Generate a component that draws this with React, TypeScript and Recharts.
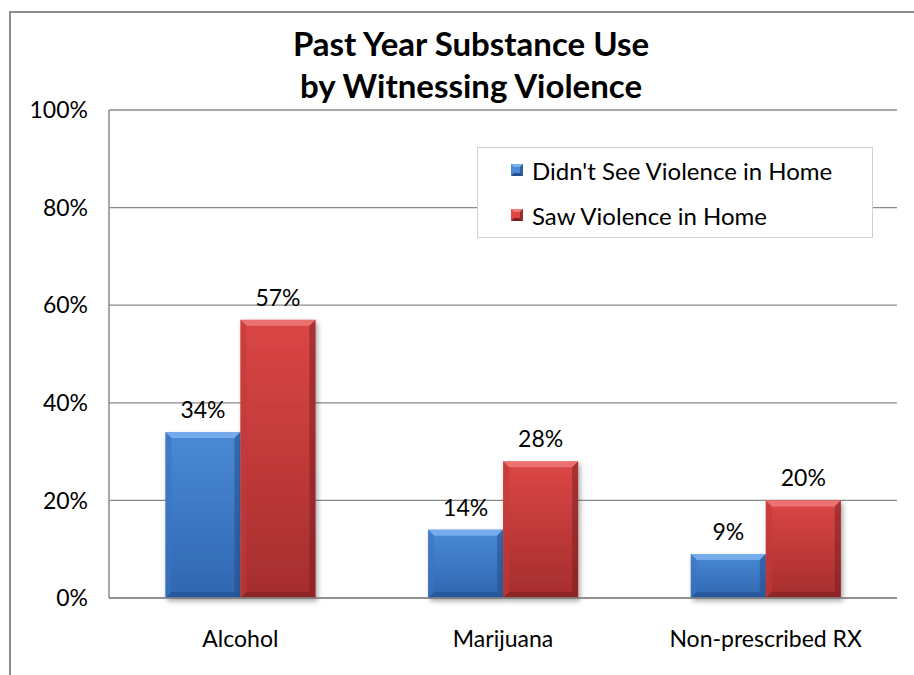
import React from "react";
import { BarChart, Bar, XAxis, YAxis, CartesianGrid, LabelList } from "recharts";

const categories = ["Alcohol", "Marijuana", "Non-prescribed RX"];
const didntSee = [34, 14, 9];
const saw = [57, 28, 20];
const yTicks = [0, 20, 40, 60, 80, 100];
const seriesNames = ["Didn't See Violence in Home", "Saw Violence in Home"];
const titleLines = ["Past Year Substance Use", "by Witnessing Violence"];

const data = categories.map((c, i) => ({ name: c, a: didntSee[i], b: saw[i] }));

const FONT = "Lato, 'Open Sans', sans-serif";

const palettes: Record<string, { top: string; bottom: string; light: string; dark: string; side: string }> = {
  blue: { top: "#4a8ad6", bottom: "#2f66b0", light: "#7cb0ee", dark: "#234f8c", side: "#3a74c2" },
  red: { top: "#dc4646", bottom: "#a52d2d", light: "#ee7a7a", dark: "#7e2020", side: "#c23a3a" },
};

const BevelBar = (color: string) => (props: any) => {
  const { x, y, width, height } = props;
  if (!height || height <= 0) return null;
  const p = palettes[color];
  const b = Math.min(6, height / 3);
  return (
    <g filter="url(#barShadow)">
      <rect x={x} y={y} width={width} height={height} fill={`url(#grad-${color})`} />
      <polygon points={`${x},${y} ${x + width},${y} ${x + width - b},${y + b} ${x + b},${y + b}`} fill={p.light} opacity={0.85} />
      <polygon points={`${x},${y} ${x + b},${y + b} ${x + b},${y + height - b} ${x},${y + height}`} fill={p.side} opacity={0.6} />
      <polygon points={`${x + width},${y} ${x + width},${y + height} ${x + width - b},${y + height - b} ${x + width - b},${y + b}`} fill={p.dark} opacity={0.55} />
      <polygon points={`${x},${y + height} ${x + width},${y + height} ${x + width - b},${y + height - b} ${x + b},${y + height - b}`} fill={p.dark} opacity={0.6} />
    </g>
  );
};

const LegendIcon = ({ color }: { color: string }) => {
  const p = palettes[color];
  return (
    <svg width={12} height={12} style={{ marginRight: 9, flex: "none" }}>
      <rect x={0} y={0} width={12} height={12} fill={p.top} />
      <polygon points="0,0 12,0 9,3 3,3" fill={p.light} />
      <polygon points="0,12 12,12 9,9 3,9" fill={p.dark} />
      <polygon points="12,0 12,12 9,9 9,3" fill={p.dark} opacity={0.7} />
    </svg>
  );
};

const LegendBox = () => (
  <div
    style={{
      position: "absolute",
      left: 477,
      top: 147,
      width: 396,
      height: 91,
      border: "1px solid #d0d0d0",
      background: "#fff",
      boxSizing: "border-box",
      fontFamily: FONT,
      fontSize: 24,
      color: "#000",
    }}
  >
    <div style={{ position: "absolute", left: 33, top: 8, height: 28, display: "flex", alignItems: "center", whiteSpace: "nowrap" }}>
      <LegendIcon color="blue" />
      <span>{seriesNames[0]}</span>
    </div>
    <div style={{ position: "absolute", left: 33, top: 53, height: 28, display: "flex", alignItems: "center", whiteSpace: "nowrap" }}>
      <LegendIcon color="red" />
      <span>{seriesNames[1]}</span>
    </div>
  </div>
);

export default function App() {
  return (
    <div style={{ position: "fixed", left: 0, top: 0, width: 914, height: 675, overflow: "hidden", background: "#fff" }}>
      <div
        style={{
          position: "absolute",
          left: 9,
          top: 11,
          width: 1000,
          height: 1000,
          border: "2px solid #8c8c8c",
          boxSizing: "border-box",
        }}
      />
      <div
        style={{
          position: "absolute",
          left: 0,
          top: 22,
          width: 942,
          textAlign: "center",
          fontFamily: FONT,
          fontWeight: 700,
          fontSize: 33,
          lineHeight: "42px",
          color: "#000",
        }}
      >
        {titleLines.map((t) => (
          <div key={t}>{t}</div>
        ))}
      </div>
      <div style={{ position: "absolute", left: 0, top: 0 }}>
        <BarChart
          width={914}
          height={675}
          data={data}
          margin={{ top: 110, right: 17, left: 49, bottom: 37 }}
          barGap={0}
          barCategoryGap="21.5%"
        >
          <defs>
            <linearGradient id="grad-blue" x1="0" y1="0" x2="0" y2="1">
              <stop offset="0%" stopColor={palettes.blue.top} />
              <stop offset="100%" stopColor={palettes.blue.bottom} />
            </linearGradient>
            <linearGradient id="grad-red" x1="0" y1="0" x2="0" y2="1">
              <stop offset="0%" stopColor={palettes.red.top} />
              <stop offset="100%" stopColor={palettes.red.bottom} />
            </linearGradient>
            <filter id="barShadow" x="-20%" y="-10%" width="140%" height="130%">
              <feDropShadow dx="2" dy="3" stdDeviation="2.5" floodColor="#000" floodOpacity="0.35" />
            </filter>
          </defs>
          <CartesianGrid vertical={false} stroke="#8a8a8a" strokeWidth={1.3} />
          <XAxis
            dataKey="name"
            height={40}
            axisLine={{ stroke: "#8a8a8a", strokeWidth: 1.5 }}
            tickLine={false}
            tickMargin={27}
            tick={{ fill: "#000", fontSize: 23, fontFamily: FONT }}
          />
          <YAxis
            width={60}
            domain={[0, 100]}
            ticks={yTicks}
            tickFormatter={(v: number) => `${v}%`}
            axisLine={{ stroke: "#8a8a8a", strokeWidth: 1.5 }}
            tickLine={false}
            tickMargin={15}
            tick={{ fill: "#000", fontSize: 23, fontFamily: FONT }}
          />
          <Bar dataKey="a" name={seriesNames[0]} fill={palettes.blue.top} shape={BevelBar("blue")} isAnimationActive={false}>
            <LabelList dataKey="a" position="top" offset={14} formatter={(v: number) => `${v}%`} style={{ fill: "#000", fontSize: 23, fontFamily: FONT }} />
          </Bar>
          <Bar dataKey="b" name={seriesNames[1]} fill={palettes.red.top} shape={BevelBar("red")} isAnimationActive={false}>
            <LabelList dataKey="b" position="top" offset={14} formatter={(v: number) => `${v}%`} style={{ fill: "#000", fontSize: 23, fontFamily: FONT }} />
          </Bar>
        </BarChart>
      </div>
      <LegendBox />
    </div>
  );
}
